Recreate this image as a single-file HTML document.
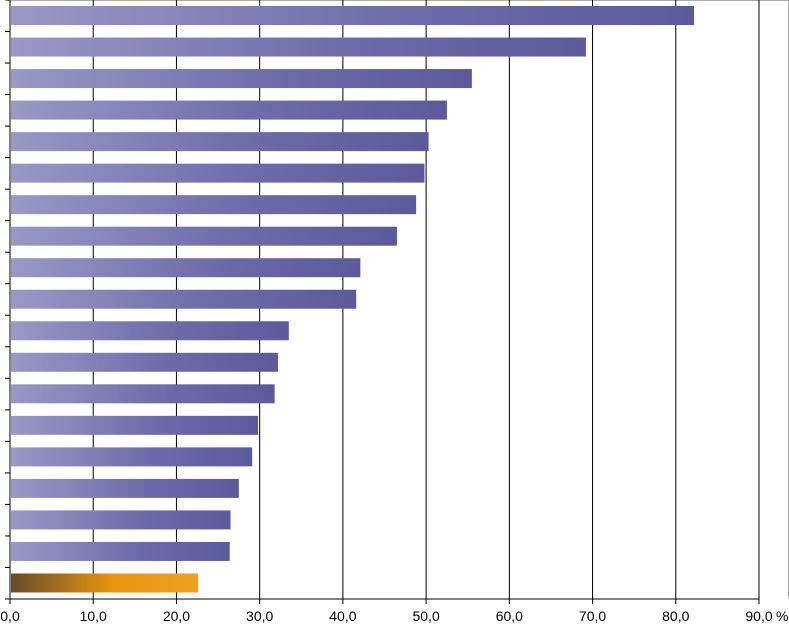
<!DOCTYPE html>
<html><head><meta charset="utf-8"><style>
body{margin:0;background:#fff;}
svg{display:block;font-family:"Liberation Sans",sans-serif;}
</style></head><body>
<svg id="chart" width="789" height="629">
<defs>
<linearGradient id="gp" x1="0" x2="1" y1="0" y2="0">
<stop offset="0" stop-color="#9a98c6"/><stop offset="0.6" stop-color="#6c6aa8"/><stop offset="1" stop-color="#5b5a9b"/>
</linearGradient>
<linearGradient id="go" x1="0" x2="1" y1="0" y2="0">
<stop offset="0" stop-color="#6a4a2a"/><stop offset="0.55" stop-color="#e8960e"/><stop offset="1" stop-color="#eea020"/>
</linearGradient>
</defs>
<g id="grid"></g><g id="bars"></g><g id="axes"></g>
</svg>
<script>
const values=[82.2,69.2,55.5,52.5,50.3,49.8,48.8,46.5,42.1,41.6,33.5,32.2,31.8,29.8,29.1,27.5,26.5,26.4,22.6];
const highlight=[18];
const ticks=[0,10,20,30,40,50,60,70,80,90];
const tickLabels=["0,0","10,0","20,0","30,0","40,0","50,0","60,0","70,0","80,0","90,0"];
const NS="http://www.w3.org/2000/svg";
const L=10,R=759,T=0,B=599,band=(B-T)/values.length;
const x=v=>L+(R-L)*v/90;
function mk(t,a,p){const e=document.createElementNS(NS,t);for(const k in a)e.setAttribute(k,a[k]);p.appendChild(e);return e;}
const g=document.getElementById('grid'),b=document.getElementById('bars'),ax=document.getElementById('axes');
mk('line',{x1:L,x2:789,y1:0.5,y2:0.5,stroke:'#aaa','stroke-width':1},g);
mk('line',{x1:788.5,x2:788.5,y1:0,y2:B,stroke:'#aaa','stroke-width':1},g);
ticks.forEach((t,i)=>{
 if(i>0){const l=mk('line',{x1:x(t),x2:x(t),y1:T,y2:B,stroke:'#000','stroke-width':1},g);
 
 }
 const tk=mk('line',{x1:x(t),x2:x(t),y1:B,y2:B+5,stroke:'#000'},ax);
 const tx=mk('text',{x:x(t),y:621,'font-size':14,'text-anchor':'middle'},ax);tx.textContent=tickLabels[i];
 
 
});
const u=mk('text',{x:776,y:621,'font-size':14,'text-anchor':'start'},ax);u.textContent='%';


values.forEach((v,i)=>{
 const r=mk('rect',{x:L+1,y:T+i*band+6,width:x(v)-L-1,height:19,fill:highlight.includes(i)?'url(#go)':'url(#gp)'},b);
 
 
});
for(let i=0;i<=values.length;i++){mk('line',{x1:L-5,x2:L,y1:T+i*band,y2:T+i*band,stroke:'#000'},ax);}
mk('line',{x1:L,x2:L,y1:T,y2:B+5,stroke:'#000'},ax);
mk('line',{x1:L,x2:R,y1:B,y2:B,stroke:'#000'},ax);
</script>
</body></html>
